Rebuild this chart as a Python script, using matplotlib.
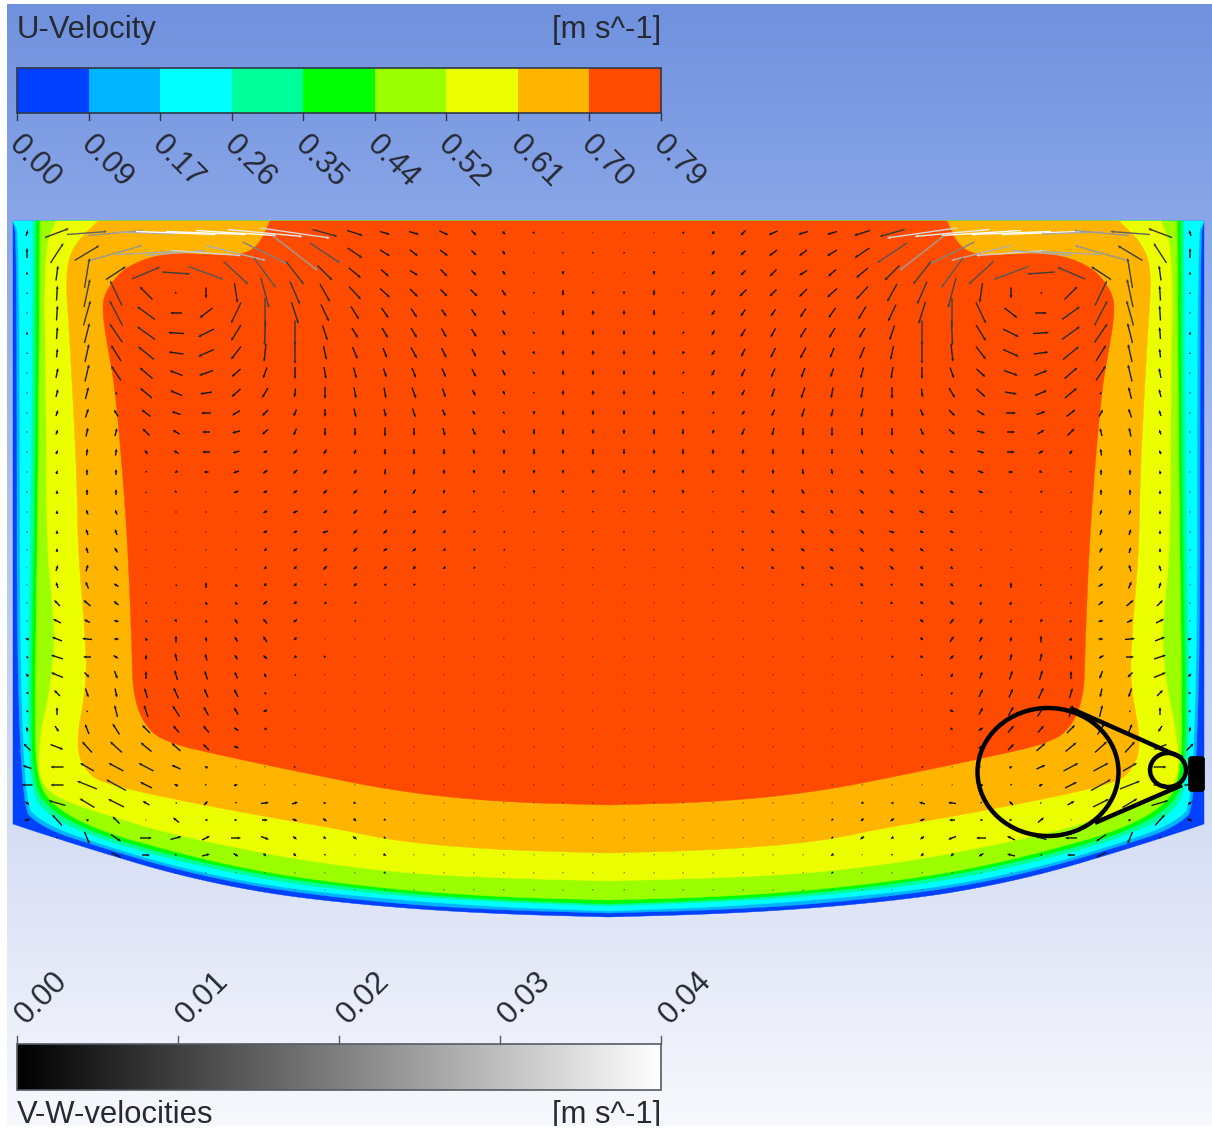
"""U-velocity contour with V-W vectors (CFD cross-section), rebuilt from a picture."""

import numpy as np
import matplotlib
matplotlib.use('Agg')
import matplotlib.pyplot as plt
from matplotlib.colors import ListedColormap, BoundaryNorm, PowerNorm
from matplotlib.patches import Ellipse, FancyBboxPatch, Polygon, Rectangle

plt.rcParams['font.family'] = ['Liberation Sans', 'DejaVu Sans']

U_TICKS = ['0.00', '0.09', '0.17', '0.26', '0.35', '0.44', '0.52', '0.61', '0.70', '0.79']
U_LEVELS = [0.00, 0.09, 0.17, 0.26, 0.35, 0.44, 0.52, 0.61, 0.70, 0.79]
U_COLORS = ['#0040ff', '#00b4ff', '#00ffff', '#00ff9b', '#00ff00',
            '#9bff00', '#ebff00', '#ffb400', '#ff4b00']
V_TICKS = ['0.00', '0.01', '0.02', '0.03', '0.04']

# band outlines on the left half, section is symmetric about x = MIRROR / 2
MIRROR = 1217
BAND_0 = [(13, 221), (13, 824), (40, 833), (100, 852), (167, 872), (233, 887), (300, 898), (400, 908), (500, 914), (608, 917)]
BAND_1 = [(13, 221), (17, 240), (17, 803), (42, 828), (100, 847), (167, 867), (233, 882), (300, 893), (400, 904), (500, 910), (608, 913)]
BAND_2 = [(13, 221), (20, 235), (20, 800), (44, 824), (100, 844), (167, 864), (233, 879), (300, 890), (400, 900), (500, 907), (608, 911)]
BAND_3 = [(33, 221), (33, 300), (31, 500), (28, 700), (30, 790), (48, 817), (100, 839), (167, 858), (233, 873), (300, 885), (400, 896), (500, 902), (608, 906)]
BAND_4 = [(36, 221), (35, 500), (31, 700), (33, 785), (52, 812), (100, 835), (167, 854), (233, 869), (300, 881), (400, 893), (500, 900), (608, 904)]
BAND_5 = [(40, 221), (38, 500), (35, 700), (36, 780), (55, 808), (100, 831), (167, 850), (233, 866), (300, 878), (400, 890), (500, 897), (608, 900)]
BAND_6 = [(56, 221), (44, 250), (46, 400), (47, 550), (52, 600), (55, 640), (50, 690), (41, 730), (38, 765), (42, 783), (57, 798), (100, 813), (167, 833), (233, 847), (300, 860), (400, 873), (500, 878), (608, 881)]
BAND_7 = [(98, 221), (75, 243), (65, 270), (70, 343), (77, 477), (78, 550), (85, 633), (87, 683), (75, 747), (87, 773), (103, 783), (167, 798), (267, 817), (333, 828), (400, 842), (500, 850), (608, 853)]
BAND_8 = [(270, 221), (260, 243), (247, 253), (230, 255), (217, 255), (177, 253), (150, 257), (127, 267), (115, 278), (103, 297), (103, 317), (107, 343), (115, 387), (123, 477), (128, 550), (132, 650), (133, 693), (143, 723), (163, 742), (233, 758), (300, 772), (400, 792), (500, 802), (608, 805)]

# V-W vectors on the left half (pixels of the picture, y pointing down)
ARROW_X = [27, 57, 87, 116, 146, 176, 206, 236, 265, 295, 325, 355, 385, 414, 444, 474, 504, 534, 563, 593]
ARROW_Y = [233, 253, 273, 293, 313, 333, 353, 373, 393, 413, 432, 452, 472, 492, 512, 532, 550, 568,
           585, 603, 621, 639, 657, 675, 693, 711, 729, 747, 767, 785, 803, 820, 838, 855, 873, 890]
ARROW_U = [
    [2, 24, 40, 55, 60, 80, 80, 80, 75, 70, 25, 16, 10, 10, 9, 5, 3, 2, 1, 1],
    [0, 13, 25, 53, 60, 60, 70, 60, 45, 45, 30, 15, 10, 8, 8, 5, 3, 1, 1, 1],
    [0, 2, 5, 20, 28, 28, 35, 25, 22, 18, 15, 12, 8, 8, 7, 5, 3, 1, 0, 1],
    [0, 1, 6, -12, -13, 2, 0, 3, 8, 10, 10, 12, 10, 8, 7, 7, 4, 1, 0, 0],
    [0, 1, 7, -13, -18, -12, -13, -10, 0, 7, 8, 8, 7, 6, 5, 5, 3, 1, 0, 0],
    [0, 1, 5, -13, -18, -16, -16, -10, -1, 0, 5, 6, 6, 6, 5, 5, 3, 2, 0, 0],
    [0, 1, 4, -10, -16, -15, -16, -10, -2, 0, 3, 5, 4, 6, 5, 4, 3, 2, 0, 0],
    [0, 2, 4, -10, -13, -13, -14, -9, -4, 0, 2, 3, 3, 4, 4, 4, 3, 2, 0, 0],
    [0, 2, 3, -2, -12, -12, -12, -9, -6, -1, 0, 2, 2, 4, 3, 3, 2, 1, 0, 0],
    [0, 2, 3, -4, -9, -9, -10, -8, -6, -3, 0, 2, 2, 3, 3, 3, 2, 0, 0, 0],
    [0, 2, 2, 2, -7, -7, -8, -8, -6, -3, 0, 0, 0, 0, 2, 3, 2, 0, 0, 0],
    [0, 2, 1, 1, -3, -5, -8, -7, -4, -4, -3, -2, 0, 0, 0, 1, 0, 0, 0, 0],
    [0, 1, 0, 0, -1, -3, -5, -6, -5, -4, -4, -3, -1, -1, 0, 0, 0, 0, 0, 0],
    [0, 0, 0, 0, 0, 2, 1, -5, -4, -4, -4, -4, -2, -3, -1, 0, 0, 0, 0, 0],
    [0, 0, -2, -2, 1, 0, 0, 1, -4, -5, -4, -4, -3, -4, -4, -1, 1, -2, 0, 0],
    [0, 0, -2, -2, 1, 1, 1, 1, -4, -4, -6, -4, -4, -3, -3, -2, -2, -1, 0, 0],
    [0, 0, -2, -3, 1, 1, 0, 1, -3, -4, -4, -4, -4, -4, -3, -2, -2, -1, 0, 0],
    [1, 2, 2, -4, 1, 1, 1, 1, -3, -3, -4, -4, -4, -3, -3, -2, -1, -1, 1, 1],
    [1, -2, -3, -5, 1, -2, 0, -2, -3, -3, -2, -3, -2, -2, -1, -1, 1, 1, 1, 1],
    [0, -6, -7, -5, -2, 1, -2, -2, -4, -3, -3, -2, -1, -1, 1, 1, 1, 1, 1, 1],
    [-1, -8, -6, -5, -2, 2, -1, -3, -4, -4, 1, -2, 1, 1, 1, 1, 1, 1, 1, 1],
    [-4, -10, -10, -5, -2, 0, -1, -3, -4, -3, -1, 1, 1, 1, 1, 1, 1, 1, 1, 1],
    [-2, -12, -8, 5, 0, -2, -2, -3, -4, -3, 2, 1, 1, 1, 1, 1, 1, 1, 1, 1],
    [-3, -12, 5, 3, 0, -3, -3, -3, -2, -2, 1, 1, 1, 1, 1, 1, 1, 1, 1, 1],
    [-3, -6, 3, 2, -3, -5, -4, -4, -2, 1, 1, 1, 1, 1, 1, 1, 1, 1, 1, 1],
    [-2, 0, -1, -3, -4, -7, -5, -4, -4, 1, 1, 1, 1, 1, 1, 1, 1, 1, 1, 1],
    [-1, 4, -4, -7, -8, -6, -6, -5, -3, 1, 1, 1, 1, 1, 1, 1, 1, 1, 1, 1],
    [-7, 13, -10, -12, -11, -9, -6, -5, 1, 1, 1, 1, 1, 1, 1, 1, 1, 1, 1, 1],
    [-9, -13, -14, -15, -15, -9, -3, -1, 1, 2, 1, 1, 1, 1, 1, 1, 1, 1, 1, 1],
    [-11, -13, -20, -20, -12, -4, 1, 4, 1, 1, 1, 1, 1, 1, 1, 1, 1, 1, 1, 1],
    [-4, -17, -15, -16, -7, -2, 4, 1, 8, 6, 3, 3, 1, 1, 1, 1, 1, 1, 1, 1],
    [-5, -10, -3, -7, 1, -6, -3, 3, 6, 5, 4, 3, 2, 1, 1, 1, 1, 1, 1, 1],
    [0, 1, 5, 10, 12, 11, 8, 10, 8, 4, 3, 4, 2, 1, 1, 1, 1, 1, 1, 1],
    [0, 0, 2, 10, 8, 2, 8, 5, 3, 3, 1, 1, 3, 1, 1, 1, 1, 1, 1, 1],
    [0, 0, 1, 1, 1, 1, 1, 1, 1, 1, 1, 1, 2, 1, 1, 1, 1, 1, 1, 1],
    [0, 0, 0, 0, 0, 1, 1, 1, 1, 1, 1, 1, 1, 1, 1, 1, 1, 1, 1, 1],
]
ARROW_V = [
    [-6, -9, -3, -5, 2, 3, 3, 5, 7, 10, 7, 5, 3, 3, 4, 5, 3, 2, 1, 1],
    [-10, -20, -15, -15, -3, -5, 5, 15, 22, 35, 20, 10, 6, 6, 6, 5, 4, 1, 2, 2],
    [-3, -15, -30, -13, -12, 2, 13, 23, 30, 23, 15, 10, 7, 5, 7, 5, 4, 1, 4, 1],
    [-2, -15, -28, -25, -13, 1, 11, 20, 30, 23, 18, 13, 9, 8, 7, 7, 6, 2, 6, 3],
    [-1, -15, -25, -25, -13, 0, 10, 21, 30, 22, 17, 13, 10, 9, 7, 7, 5, 1, 6, 5],
    [-3, -12, -20, -19, -13, -1, 8, 16, 25, 25, 15, 10, 10, 10, 9, 8, 5, 2, 5, 5],
    [-2, -9, -18, -16, -13, -2, 7, 13, 18, 22, 14, 12, 10, 11, 10, 8, 5, 3, 5, 5],
    [1, -10, -17, -15, -11, -5, 5, 8, 11, 12, 12, 11, 9, 10, 9, 8, 6, 2, 5, 5],
    [1, -8, -12, -2, -10, -5, 2, 8, 10, 9, 12, 11, 11, 11, 9, 6, 4, 2, 5, 5],
    [1, -6, -9, -7, -7, -3, 0, 5, 6, 7, 8, 9, 8, 9, 7, 4, 2, 4, 5, 5],
    [1, -5, -9, -8, -7, -4, 0, 2, 5, 7, 8, 8, 9, 8, 8, 7, 4, 6, 6, 5],
    [1, -4, -7, -7, -4, -3, 0, 2, 2, 4, 5, 5, 6, 6, 6, 5, 5, 6, 5, 6],
    [1, -4, -6, -6, 2, 2, 0, 2, 3, 4, 4, 4, 6, 6, 5, 4, 4, 4, 4, 4],
    [1, -4, -6, -6, -2, 2, 1, 2, 2, 3, 4, 4, 4, 5, 4, 3, 2, 4, 3, 3],
    [1, -4, -5, -5, 1, 1, 1, 1, 2, 2, 3, 4, 4, 2, 3, 2, 1, 1, 2, 2],
    [1, -4, -6, -6, 1, 1, 1, 1, 2, 2, 2, 4, 4, 4, 2, 2, 1, 0, 2, 2],
    [1, -4, -6, -5, 1, 1, 1, 2, 2, 3, 3, 4, 3, 3, 2, 2, 1, 1, 2, 2],
    [1, -6, -7, -5, 1, 1, 1, 1, 2, 3, 4, 3, 3, 3, 2, 2, 1, 1, 1, 1],
    [1, -6, -7, -3, 1, -1, -6, -3, 3, 3, 2, 3, 2, 2, 1, 1, 1, 1, 1, 1],
    [1, -6, -6, -4, 1, 1, -3, -3, 4, 3, 1, 2, 1, 1, 1, 1, 1, 1, 1, 1],
    [0, -4, -3, -1, -2, 3, -3, -5, -5, 3, 1, 1, 1, 1, 1, 1, 1, 1, 1, 1],
    [-1, -4, -1, 0, -3, -7, -5, -5, -6, 3, 1, 1, 1, 1, 1, 1, 1, 1, 1, 1],
    [-2, -4, 0, 3, -5, -8, -7, -5, -4, 2, 2, 1, 1, 1, 1, 1, 1, 1, 1, 1],
    [-3, -5, 5, 8, -8, -10, -9, -7, -4, 1, 1, 1, 1, 1, 1, 1, 1, 1, 1, 1],
    [0, -6, 9, 9, -10, -11, -9, -8, -2, 1, 1, 1, 1, 1, 1, 1, 1, 1, 1, 1],
    [-2, -8, -2, -12, -12, -11, -9, -7, 2, 1, 1, 1, 1, 1, 1, 1, 1, 1, 1, 1],
    [-5, 6, -10, -11, -8, -7, -7, -3, 1, 1, 1, 1, 1, 1, 1, 1, 1, 1, 1, 1],
    [-7, 5, -11, -11, -9, -8, -6, -2, 1, 1, 1, 1, 1, 1, 1, 1, 1, 1, 1, 1],
    [-3, 0, -8, -8, -8, -4, -2, 1, 1, 1, 1, 1, 1, 1, 1, 1, 1, 1, 1, 1],
    [0, 0, -8, -11, -6, -2, 2, -1, 1, 1, 1, 1, 1, 1, 1, 1, 1, 1, 1, 1],
    [-3, -5, -9, -8, -4, 0, -4, 2, -1, -2, 0, 1, 1, 1, 1, 1, 1, 1, 1, 1],
    [2, -11, -1, -7, 1, -5, 0, 0, 0, 2, 3, 3, 2, 1, 1, 1, 1, 1, 1, 1],
    [0, 2, 12, 7, 0, -3, -4, 0, 3, 3, 2, 3, 2, 1, 1, 1, 1, 1, 1, 1],
    [0, 0, 1, 5, 0, 1, -2, 3, 3, 3, 2, 1, 2, 1, 1, 1, 1, 1, 1, 1],
    [0, 0, 1, 1, 1, 1, 1, 1, 1, 1, 1, 1, 2, 1, 1, 1, 1, 1, 1, 1],
    [0, 0, 0, 0, 0, 1, 1, 1, 1, 1, 1, 1, 1, 1, 1, 1, 1, 1, 1, 1],
]

TEXT_COLOR = '#262a33'
FONT_PX = 31
FONT_PT = FONT_PX * 0.72


def rounded(points, rounds=3):
    # corner cutting, the end points stay where they are
    pts = np.array(points, dtype=float)
    for _ in range(rounds):
        q = 0.75 * pts[:-1] + 0.25 * pts[1:]
        r = 0.25 * pts[:-1] + 0.75 * pts[1:]
        mid = np.empty((2 * len(q), 2))
        mid[0::2] = q
        mid[1::2] = r
        pts = np.vstack([pts[0], mid, pts[-1]])
    return pts


def closed_outline(half, sharp=1):
    # the first `sharp` vertices are real corners of the section
    left = np.vstack([np.array(half[:sharp], dtype=float), rounded(half[sharp - 1:])])
    right = left[::-1].copy()
    right[:, 0] = MIRROR - right[:, 0]
    return np.vstack([left, right])


fig = plt.figure(figsize=(12.12, 11.30), dpi=100)
ax = fig.add_axes([0, 0, 1, 1])
ax.set_xlim(0, 1212)
ax.set_ylim(1130, 0)
ax.axis('off')

# background ramp
stops_y = [4, 220, 900, 1126]
stops_rgb = np.array([[112, 145, 222], [138, 166, 232], [222, 228, 246], [248, 249, 253]]) / 255
ramp_y = np.arange(4, 1127)
ramp = np.stack([np.interp(ramp_y, stops_y, stops_rgb[:, i]) for i in range(3)], axis=1)[:, None, :]
ax.imshow(ramp, extent=[7, 1212, 1126, 4], aspect='auto', zorder=0)
ax.set_xlim(0, 1212)
ax.set_ylim(1130, 0)

# contour bands, outermost first
bands = [BAND_0, BAND_1, BAND_2, BAND_3, BAND_4, BAND_5, BAND_6, BAND_7, BAND_8]
domain = None
for i, (half, color) in enumerate(zip(bands, U_COLORS)):
    patch = Polygon(closed_outline(half, sharp=2 if i == 0 else 1), closed=True,
                    facecolor=color, edgecolor=color, lw=0.3, zorder=1)
    ax.add_patch(patch)
    if domain is None:
        domain = patch

# vectors, right half mirrored from the left
u_left = np.array(ARROW_U, dtype=float)
v_left = np.array(ARROW_V, dtype=float)
x_all = np.concatenate([ARROW_X, MIRROR - np.array(ARROW_X)[::-1]])
u_all = np.hstack([u_left, -u_left[:, ::-1]])
v_all = np.hstack([v_left, v_left[:, ::-1]])
xx, yy = np.meshgrid(x_all, ARROW_Y)
speed = np.hypot(u_all, v_all)
keep = speed > 0
arrows = ax.quiver(xx[keep], yy[keep], u_all[keep], v_all[keep], speed[keep],
                   cmap='gray', norm=PowerNorm(gamma=1.6, vmin=-8, vmax=80), angles='xy', scale_units='xy',
                   scale=1, units='xy', width=1.4, headwidth=2.2, headlength=2.5, headaxislength=2.2,
                   minlength=1.0, pivot='mid', zorder=2)
arrows.set_clip_path(domain)

# callout drawn over the section
ax.add_patch(Ellipse((1048, 772), 141, 128, fill=False, ec='black', lw=3.2, zorder=3))
ax.add_patch(Ellipse((1168, 770), 36, 34, fill=False, ec='black', lw=3.2, zorder=3))
ax.plot([1072, 1180], [709, 757], color='black', lw=3.2, zorder=3)
ax.plot([1097, 1180], [822, 786], color='black', lw=3.2, zorder=3)
ax.add_patch(FancyBboxPatch((1190, 758), 13, 32, boxstyle='round,pad=1.5,rounding_size=3',
                            fc='black', ec='black', lw=0.5, zorder=3))

# U-velocity legend
bar_x = np.linspace(17, 661, len(U_LEVELS))
ax.pcolormesh(bar_x, [68, 113], np.array(U_LEVELS[:-1])[None, :],
              cmap=ListedColormap(U_COLORS), norm=BoundaryNorm(U_LEVELS, 9), zorder=2)
ax.add_patch(Rectangle((17, 68), 644, 45, fill=False, ec='#303848', lw=1.2, zorder=3))
for x, label in zip(bar_x, U_TICKS):
    ax.plot([x, x], [113, 120], color='#303848', lw=1, zorder=3)
    ax.text(x + 7, 130, label, rotation=-45, rotation_mode='anchor', ha='left', va='top',
            fontsize=FONT_PT, color=TEXT_COLOR, zorder=4)
ax.text(17, 38, 'U-Velocity', ha='left', va='baseline', fontsize=FONT_PT, color=TEXT_COLOR, zorder=4)
ax.text(661, 38, '[m s^-1]', ha='right', va='baseline', fontsize=FONT_PT, color=TEXT_COLOR, zorder=4)

# V-W legend
tick_x = np.linspace(17, 661, len(V_TICKS))
ax.imshow(np.linspace(0, 1, 256)[None, :], extent=[17, 661, 1090, 1044], cmap='gray', aspect='auto', zorder=2)
ax.set_xlim(0, 1212)
ax.set_ylim(1130, 0)
ax.add_patch(Rectangle((17, 1044), 644, 46, fill=False, ec='#555a66', lw=1.2, zorder=3))
for x, label in zip(tick_x, V_TICKS):
    ax.plot([x, x], [1036, 1044], color='#555a66', lw=1, zorder=3)
    ax.text(x + 14, 1030, label, rotation=45, rotation_mode='anchor', ha='left', va='bottom',
            fontsize=FONT_PT, color=TEXT_COLOR, zorder=4)
ax.text(17, 1123, 'V-W-velocities', ha='left', va='baseline', fontsize=FONT_PT, color=TEXT_COLOR, zorder=4)
ax.text(661, 1123, '[m s^-1]', ha='right', va='baseline', fontsize=FONT_PT, color=TEXT_COLOR, zorder=4)

# picture margin on top of everything
ax.add_patch(Rectangle((0, 1126), 1212, 4, fc='white', ec='none', zorder=5))

plt.savefig('out.png', dpi=100)
plt.close()
